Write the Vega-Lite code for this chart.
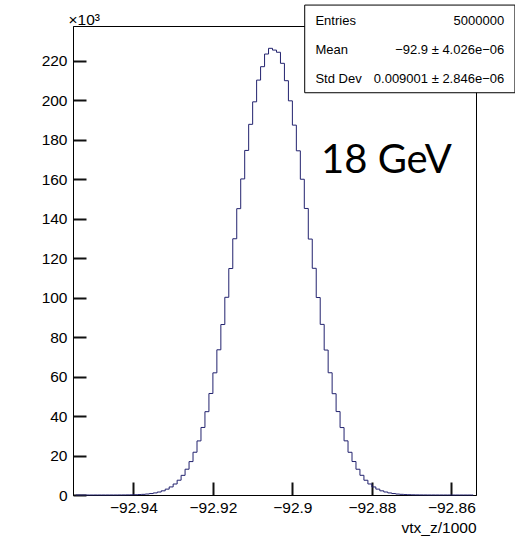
{
  "$schema": "https://vega.github.io/schema/vega-lite/v6.json",
  "width": 403,
  "height": 469,
  "autosize": "none",
  "padding": {"left": 73, "top": 26, "right": 39, "bottom": 41},
  "background": "white",
  "config": {
    "view": {"stroke": "black", "strokeWidth": 1},
    "font": "Liberation Sans",
    "axis": {
      "labelFont": "Liberation Sans", "labelFontSize": 15.5, "labelColor": "black",
      "domainColor": "black", "domainWidth": 1, "grid": false,
      "titleFont": "Liberation Sans", "titleFontWeight": "normal", "titleColor": "black", "titleFontSize": 15.5
    }
  },
  "datasets": {
    "hist": [
      {"z": -92.9545, "n": 0}, {"z": -92.9535, "n": 0}, {"z": -92.9525, "n": 0}, {"z": -92.9515, "n": 0}, {"z": -92.9505, "n": 0},
      {"z": -92.9495, "n": 1}, {"z": -92.9485, "n": 2}, {"z": -92.9475, "n": 3}, {"z": -92.9465, "n": 5}, {"z": -92.9455, "n": 9},
      {"z": -92.9445, "n": 15}, {"z": -92.9435, "n": 24}, {"z": -92.9425, "n": 38}, {"z": -92.9415, "n": 61}, {"z": -92.9405, "n": 95},
      {"z": -92.9395, "n": 146}, {"z": -92.9385, "n": 220}, {"z": -92.9375, "n": 330}, {"z": -92.9365, "n": 490}, {"z": -92.9355, "n": 720},
      {"z": -92.9345, "n": 1060}, {"z": -92.9335, "n": 1510}, {"z": -92.9325, "n": 2120}, {"z": -92.9315, "n": 2970}, {"z": -92.9305, "n": 4090},
      {"z": -92.9295, "n": 5570}, {"z": -92.9285, "n": 7490}, {"z": -92.9275, "n": 9950}, {"z": -92.9265, "n": 13060}, {"z": -92.9255, "n": 16920},
      {"z": -92.9245, "n": 21660}, {"z": -92.9235, "n": 27390}, {"z": -92.9225, "n": 34200}, {"z": -92.9215, "n": 42190}, {"z": -92.9205, "n": 51400},
      {"z": -92.9195, "n": 61860}, {"z": -92.9185, "n": 73530}, {"z": -92.9175, "n": 86330}, {"z": -92.9165, "n": 100120}, {"z": -92.9155, "n": 114690},
      {"z": -92.9145, "n": 129760}, {"z": -92.9135, "n": 145010}, {"z": -92.9125, "n": 160060}, {"z": -92.9115, "n": 174490}, {"z": -92.9105, "n": 187700},
      {"z": -92.9095, "n": 199100}, {"z": -92.9085, "n": 210100}, {"z": -92.9075, "n": 216900}, {"z": -92.9065, "n": 223300}, {"z": -92.9055, "n": 226200},
      {"z": -92.9045, "n": 225300}, {"z": -92.9035, "n": 224200}, {"z": -92.9025, "n": 218600}, {"z": -92.9015, "n": 209800}, {"z": -92.9005, "n": 199600},
      {"z": -92.8995, "n": 187300}, {"z": -92.8985, "n": 174300}, {"z": -92.8975, "n": 159900}, {"z": -92.8965, "n": 145100}, {"z": -92.8955, "n": 129600},
      {"z": -92.8945, "n": 114800}, {"z": -92.8935, "n": 100000}, {"z": -92.8925, "n": 86400}, {"z": -92.8915, "n": 73400}, {"z": -92.8905, "n": 61900},
      {"z": -92.8895, "n": 51300}, {"z": -92.8885, "n": 42250}, {"z": -92.8875, "n": 34150}, {"z": -92.8865, "n": 27420}, {"z": -92.8855, "n": 21630},
      {"z": -92.8845, "n": 16950}, {"z": -92.8835, "n": 13040}, {"z": -92.8825, "n": 9970}, {"z": -92.8815, "n": 7470}, {"z": -92.8805, "n": 5580},
      {"z": -92.8795, "n": 4080}, {"z": -92.8785, "n": 2980}, {"z": -92.8775, "n": 2110}, {"z": -92.8765, "n": 1520}, {"z": -92.8755, "n": 1050},
      {"z": -92.8745, "n": 730}, {"z": -92.8735, "n": 480}, {"z": -92.8725, "n": 340}, {"z": -92.8715, "n": 210}, {"z": -92.8705, "n": 150},
      {"z": -92.8695, "n": 92}, {"z": -92.8685, "n": 63}, {"z": -92.8675, "n": 37}, {"z": -92.8665, "n": 25}, {"z": -92.8655, "n": 14},
      {"z": -92.8645, "n": 9}, {"z": -92.8635, "n": 5}, {"z": -92.8625, "n": 3}, {"z": -92.8615, "n": 2}, {"z": -92.8605, "n": 1},
      {"z": -92.8595, "n": 0}, {"z": -92.8585, "n": 0}, {"z": -92.8575, "n": 0}, {"z": -92.8565, "n": 0}, {"z": -92.8555, "n": 0},
      {"z": -92.8545, "n": 0}
    ]
  },
  "layer": [
    {
      "data": {"name": "hist"},
      "mark": {"type": "line", "interpolate": "step", "color": "#22226e", "strokeWidth": 1},
      "encoding": {
        "x": {"field": "z", "type": "quantitative",
          "scale": {"domain": [-92.9552, -92.8538], "nice": false, "zero": false},
          "axis": {"orient": "bottom", "values": [-92.94, -92.92, -92.9, -92.88, -92.86], "format": "~f",
            "ticks": true, "tickSize": -13, "tickColor": "#111111", "tickWidth": 2, "labelPadding": 18, "title": "vtx_z/1000",
            "titleAnchor": "end", "titleAlign": "right", "titleBaseline": "alphabetic", "titleX": 403, "titleY": 37}},
        "y": {"field": "n", "type": "quantitative",
          "scale": {"domain": [0, 237500], "nice": false, "zero": false},
          "axis": {"orient": "left", "values": [0, 20000, 40000, 60000, 80000, 100000, 120000, 140000, 160000, 180000, 200000, 220000],
            "labelExpr": "format(datum.value/1000, 'd')", "ticks": true, "tickSize": -13, "tickColor": "#111111", "tickWidth": 2, "labelPadding": 19,
            "title": "×10³", "titleAngle": 0, "titleAlign": "left", "titleBaseline": "alphabetic", "titleX": -5, "titleY": -2}}
      }
    },
    {
      "data": {"values": [{}]},
      "mark": {"type": "text", "text": "18 GeV", "font": "Lato", "fontSize": 40, "align": "left", "baseline": "alphabetic", "color": "black"},
      "encoding": {
        "x": {"datum": -92.8928, "type": "quantitative"},
        "y": {"datum": 162900, "type": "quantitative"}
      }
    },
    {
      "data": {"values": [{}]},
      "mark": {"type": "rect", "fill": "white", "stroke": "black", "strokeWidth": 1},
      "encoding": {
        "x": {"datum": -92.8969, "type": "quantitative"},
        "x2": {"datum": -92.8440},
        "y": {"datum": 248100, "type": "quantitative"},
        "y2": {"datum": 203700}
      }
    },
    {
      "data": {"values": [{}]},
      "mark": {"type": "text", "text": ["Entries", "Mean", "Std Dev"], "font": "Liberation Sans", "fontSize": 13, "lineHeight": 29, "align": "left", "baseline": "middle", "color": "black"},
      "encoding": {
        "x": {"datum": -92.8942, "type": "quantitative"},
        "y": {"datum": 240000, "type": "quantitative"}
      }
    },
    {
      "data": {"values": [{}]},
      "mark": {"type": "text", "text": ["5000000", "−92.9 ± 4.026e−06", "0.009001 ± 2.846e−06"], "font": "Liberation Sans", "fontSize": 13, "lineHeight": 29, "align": "right", "baseline": "middle", "color": "black"},
      "encoding": {
        "x": {"datum": -92.8467, "type": "quantitative"},
        "y": {"datum": 240000, "type": "quantitative"}
      }
    }
  ]
}
